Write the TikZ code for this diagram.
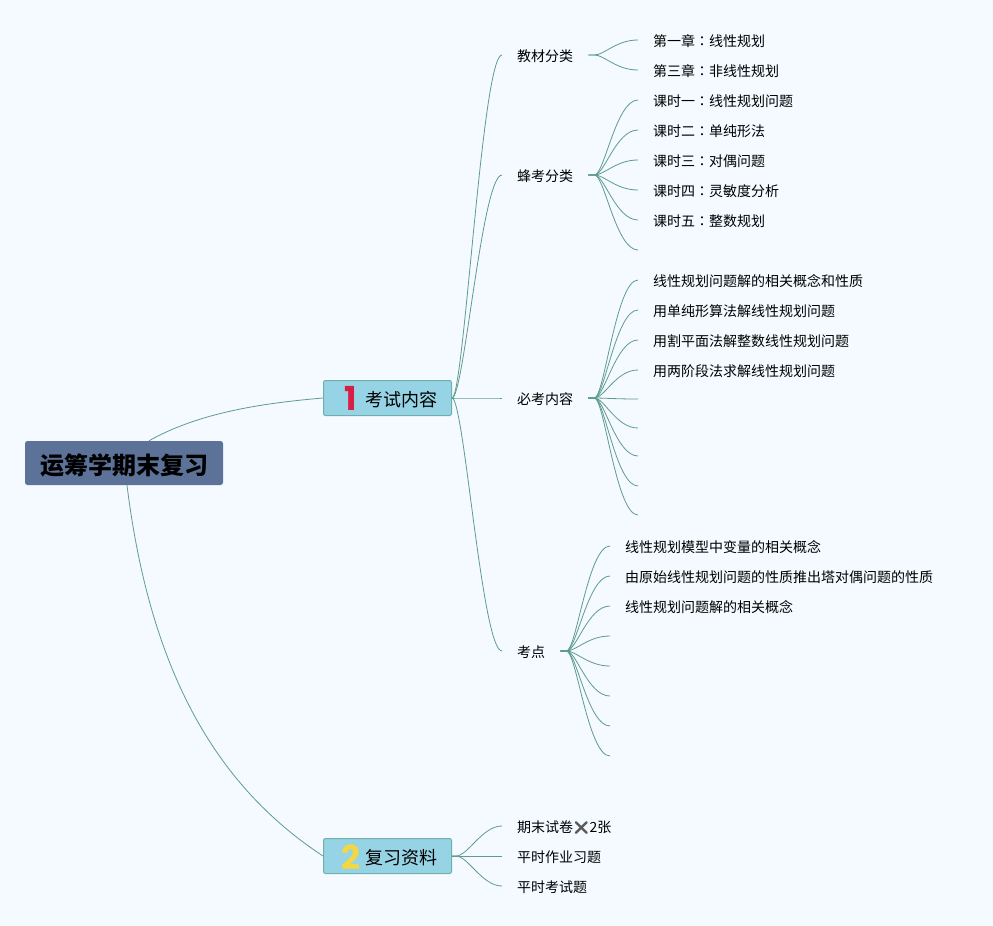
\documentclass[tikz,border=0pt]{standalone}
\usepackage{fontspec}
\usepackage{xcolor}
\setmainfont{Noto Sans CJK SC}
\newfontfamily\cjktc{Noto Sans CJK TC}
\newfontfamily\emojifont{Noto Emoji}
\newfontfamily\numfont{Poppins}[BoldFont={Poppins Bold}]
\usetikzlibrary{calc}
\definecolor{bgcol}{HTML}{F4FAFF}
\definecolor{rootcol}{HTML}{5C7299}
\definecolor{topiccol}{HTML}{96D3E4}
\definecolor{edgecol}{HTML}{6FB0AE}
\definecolor{linkcol}{HTML}{5F9C8C}
\definecolor{onecol}{HTML}{D81E45}
\definecolor{twocol}{HTML}{F5D742}
\newcommand{\cln}{{\cjktc ：}}
\newcommand{\topicnum}[3]{\raisebox{#1}[0pt][0pt]{\numfont\bfseries\fontsize{33}{33}\selectfont\textcolor{#2}{#3}}}
\tikzset{
  rootbox/.style={fill=rootcol,rounded corners=2.5pt,minimum width=198pt,minimum height=44pt,inner sep=0pt,text height=23pt,text depth=1pt,font=\fontsize{24}{24}\selectfont\bfseries},
  topicbox/.style={fill=topiccol,draw=edgecol,line width=1pt,rounded corners=2pt,minimum width=128pt,minimum height=35pt,inner sep=0pt,text height=17pt,text depth=1pt,font=\fontsize{18}{18}\selectfont},
  textbox/.style={anchor=west,inner xsep=15pt,inner ysep=0pt,text height=15pt,text depth=2pt,font=\fontsize{14}{14}\selectfont},
  link/.style={draw=linkcol,line width=0.8pt},
  curve/.style 2 args={out=0,in=180,out distance=#1,in distance=#2}
}
\begin{document}
\begin{tikzpicture}[x=1pt,y=-1pt]
    \fill[bgcol] (0,0) rectangle (993,926);
    \useasboundingbox (0,0) rectangle (993,926);
    % Root and main topics
    \node[rootbox] (root) at (124,463) {运筹学期末复习};
    \node[topicbox] (exam) at (387.5,398) {\hspace{7pt}\topicnum{-4pt}{onecol}{1}\hspace{9pt}考试内容};
    \node[topicbox] (review) at (387.5,856) {\hspace{4pt}\topicnum{-5pt}{twocol}{2}\hspace{6pt}复习资料};
    \draw[link] ([xshift=25pt]root.north) .. controls (200,412) and (265,403) .. (exam.west);
    \draw[link] ([xshift=3pt]root.south) .. controls (150,670) and (215,785) .. (review.west);
    % Second level
    \foreach \name/\y/\txt in {book/55/教材分类,bee/175/蜂考分类,must/398/必考内容,point/651/考点}{
      \node[textbox] (\name) at (502,\y) {\txt};
      \draw[link] (exam.east) to[curve={12pt}{20pt}] (\name.west);
    }
    \foreach \name/\y/\txt in {paper/826/期末试卷{\emojifont\fontsize{13}{13}\selectfont\textcolor{black!65}{❌}}2张,homework/856/平时作业习题,quiz/886/平时考试题}{
      \node[textbox] (\name) at (502,\y) {\txt};
      \draw[link] (review.east) -- ++(4,0) to[curve={12pt}{20pt}] (\name.west);
    }
    % Book leaves
    \foreach \i/\y/\txt in {1/40/第一章\cln 线性规划,2/70/第三章\cln 非线性规划}{
      \node[textbox] (book\i) at (638,\y) {\txt};
      \draw[link] (book.east) -- ++(6,0) to[curve={10pt}{22pt}] (book\i.west);
    }
    % Bee leaves
    \foreach \i/\y/\txt in {1/100/课时一\cln 线性规划问题,2/130/课时二\cln 单纯形法,3/160/课时三\cln 对偶问题,4/190/课时四\cln 灵敏度分析,5/220/课时五\cln 整数规划}{
      \node[textbox] (bee\i) at (638,\y) {\txt};
      \draw[link] (bee.east) -- ++(6,0) to[curve={10pt}{22pt}] (bee\i.west);
    }
    \coordinate (bee6) at (638,250);
    \draw[link] (bee.east) -- ++(6,0) to[curve={10pt}{22pt}] (bee6);
    % Must leaves
    \foreach \i/\y/\txt in {1/280/线性规划问题解的相关概念和性质,2/310/用单纯形算法解线性规划问题,3/340/用割平面法解整数线性规划问题,4/370/用两阶段法求解线性规划问题}{
      \node[textbox] (must\i) at (638,\y) {\txt};
      \draw[link] (must.east) -- ++(6,0) to[curve={10pt}{22pt}] (must\i.west);
    }
    \foreach \i/\y in {5/399,6/428,7/456,8/486,9/515}{
      \coordinate (must\i) at (638,\y);
      \draw[link] (must.east) -- ++(6,0) to[curve={10pt}{22pt}] (must\i);
    }
    % Point leaves
    \foreach \i/\y/\txt in {1/546/线性规划模型中变量的相关概念,2/576/由原始线性规划问题的性质推出塔对偶问题的性质,3/606/线性规划问题解的相关概念}{
      \node[textbox] (point\i) at (610,\y) {\txt};
      \draw[link] (point.east) -- ++(6,0) to[curve={10pt}{22pt}] (point\i.west);
    }
    \foreach \i/\y in {4/636,5/666,6/696,7/726,8/756}{
      \coordinate (point\i) at (610,\y);
      \draw[link] (point.east) -- ++(6,0) to[curve={10pt}{22pt}] (point\i);
    }
\end{tikzpicture}
\end{document}
